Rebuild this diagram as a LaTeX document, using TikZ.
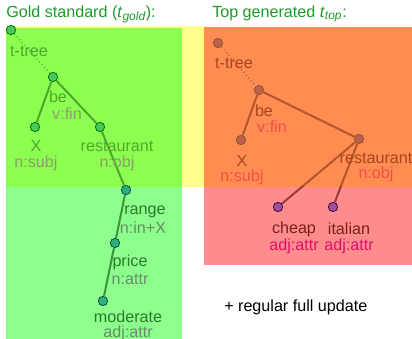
\documentclass[tikz,border=0pt]{standalone}
\usepackage{xcolor}
\usepackage{fontspec}
\setmainfont{Liberation Sans}
\usepackage{tikz}
\usetikzlibrary{positioning}
\definecolor{GLime}{HTML}{8CFF50}
\definecolor{GLight}{HTML}{8CFF8C}
\definecolor{YBand}{HTML}{FFFF8C}
\definecolor{OBand}{HTML}{FF8C50}
\definecolor{PBand}{HTML}{FF8C8C}
\definecolor{GTitle}{HTML}{1F9A2A}
\definecolor{GWord}{HTML}{4EA82C}
\definecolor{GType}{HTML}{8C9C6C}
\definecolor{GWordB}{HTML}{2A7A2A}
\definecolor{GTypeB}{HTML}{6A8A6A}
\definecolor{GEdge}{HTML}{4CA82C}
\definecolor{GEdgeB}{HTML}{3A943A}
\definecolor{GFill}{HTML}{46C85A}
\definecolor{GFillB}{HTML}{2DB07A}
\definecolor{RWord}{HTML}{A8461E}
\definecolor{RType}{HTML}{F0504A}
\definecolor{RWordB}{HTML}{7A1E1E}
\definecolor{RTypeB}{HTML}{E0106A}
\definecolor{REdge}{HTML}{B4562E}
\definecolor{REdgeB}{HTML}{9A3A3A}
\definecolor{RFill}{HTML}{C0604C}
\definecolor{RFillB}{HTML}{A0509A}

\begin{document}
\begin{tikzpicture}[
  x=0.75pt,y=-0.75pt,
  every node/.style={font=\fontsize{12.1}{14}\selectfont,inner sep=0pt},
  gn/.style={circle,draw=green!45!black,fill=GFill,minimum size=7pt,line width=0.6pt},
  gnb/.style={gn,draw=teal!60!black,fill=GFillB},
  rn/.style={circle,draw=brown!70!black,fill=RFill,minimum size=7pt,line width=0.6pt},
  rnb/.style={rn,draw=violet!50!black,fill=RFillB},
  gw/.style={text=GWord},
  gt/.style={text=GType},
  gwb/.style={text=GWordB},
  gtb/.style={text=GTypeB},
  rw/.style={text=RWord},
  rt/.style={text=RType},
  rwb/.style={text=RWordB},
  rtb/.style={text=RTypeB},
  ge/.style={draw=GEdge,line width=1.5pt},
  geb/.style={draw=GEdgeB,line width=1.5pt},
  re/.style={draw=REdge,line width=1.5pt},
  reb/.style={draw=REdgeB,line width=1.5pt},
  root/.style={dotted,line width=0.8pt}
]
  \useasboundingbox (0,0) rectangle (412,339);
  % background bands
  \fill[YBand] (6,26) rectangle (204,187);
  \fill[GLight] (6,28) rectangle (182,339);
  \fill[GLime] (6,28) rectangle (182,187);
  \fill[PBand] (204,27) rectangle (412,265);
  \fill[OBand] (204,27) rectangle (412,187);

  \node[anchor=west,text=GTitle] (gtitle) at (6,14) {Gold standard (\textit{t}$_{\textit{\small gold}}$):};
  \node[anchor=west,text=GTitle] (ttitle) at (212,14) {Top generated \textit{t}$_{\textit{\small top}}$:};

  % gold tree
  \node[gn] (g0) at (11,30) {};
  \node[gn] (gbe) at (53,77) {};
  \node[gn] (gx) at (35,127) {};
  \node[gn] (grest) at (100,127) {};
  \node[gnb] (grange) at (126,190) {};
  \node[gnb] (gprice) at (115,243) {};
  \node[gnb] (gmod) at (103,301) {};
  \draw[root,draw=GEdge] (g0) -- (gbe);
  \draw[ge] (gbe) -- (gx);
  \draw[ge] (gbe) -- (grest);
  \draw[ge] (grest) -- (grange);
  \draw[geb] (grange) -- (gprice);
  \draw[geb] (gprice) -- (gmod);
  \node[gw] (g0w) at (29,51) {t-tree};
  \node[gw] (gbew) at (58,97) {be};
  \node[gt] (gbet) at (67,114) {v:fin};
  \node[gw] (gxw) at (36,146) {X};
  \node[gt] (gxt) at (36,163) {n:subj};
  \node[gw] (grestw) at (117,146) {restaurant};
  \node[gt] (grestt) at (117,163) {n:obj};
  \node[gwb] (grangew) at (145,212) {range};
  \node[gtb] (grranget) at (143,228) {n:in+X};
  \node[gwb] (gpricew) at (130,262) {price};
  \node[gtb] (gpricet) at (130,279) {n:attr};
  \node[gwb] (gmodw) at (128,317) {moderate};
  \node[gtb] (gmodt) at (128,333) {adj:attr};

  % top tree
  \node[rn] (t0) at (218,43) {};
  \node[rn] (tbe) at (259,90) {};
  \node[rn] (tx) at (241,140) {};
  \node[rn] (trest) at (359,139) {};
  \node[rnb] (tcheap) at (278,207) {};
  \node[rnb] (tital) at (333,207) {};
  \draw[root,draw=REdge] (t0) -- (tbe);
  \draw[re] (tbe) -- (tx);
  \draw[re] (tbe) -- (trest);
  \begin{scope}
    \clip (204,27) rectangle (412,187);
    \draw[re] (trest) -- (tcheap);
    \draw[re] (trest) -- (tital);
  \end{scope}
  \begin{scope}
    \clip (204,187) rectangle (412,265);
    \draw[reb] (trest) -- (tcheap);
    \draw[reb] (trest) -- (tital);
  \end{scope}
  \node[rw] (t0w) at (234,63) {t-tree};
  \node[rw] (tbew) at (264,111) {be};
  \node[rt] (tbet) at (272,127) {v:fin};
  \node[rw] (txw) at (242,161) {X};
  \node[rt] (txt) at (242,177) {n:subj};
  \node[rw] (trestw) at (376,158) {restaurant};
  \node[rt] (trestt) at (376,174) {n:obj};
  \node[rwb] (tcheapw) at (294,229) {cheap};
  \node[rtb] (tcheapt) at (294,246) {adj:attr};
  \node[rwb] (titalw) at (349,229) {italian};
  \node[rtb] (titalt) at (349,246) {adj:attr};

  \node[anchor=west] (upd) at (224,307) {+ regular full update};
\end{tikzpicture}
\end{document}
